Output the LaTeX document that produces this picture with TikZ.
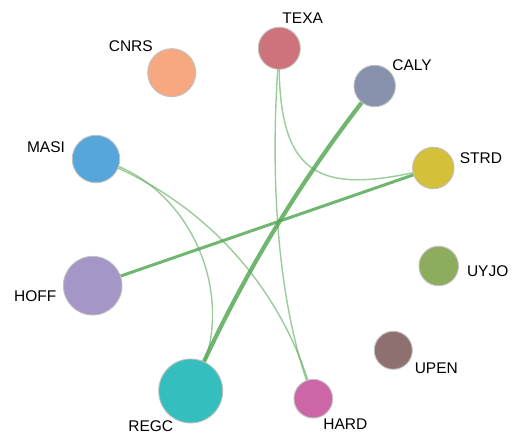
\documentclass[tikz,border=0pt]{standalone}
\usepackage{fontspec}
\setmainfont{Liberation Sans}
\pgfdeclarelayer{bgfill}
\pgfdeclarelayer{edges}
\pgfsetlayers{bgfill,edges,main}
\definecolor{edgecol}{RGB}{88,170,88}
\definecolor{cTEXA}{RGB}{206,114,124}
\definecolor{cCNRS}{RGB}{246,168,128}
\definecolor{cCALY}{RGB}{135,145,171}
\definecolor{cMASI}{RGB}{86,166,220}
\definecolor{cSTRD}{RGB}{213,192,58}
\definecolor{cHOFF}{RGB}{164,151,200}
\definecolor{cUYJO}{RGB}{142,172,94}
\definecolor{cUPEN}{RGB}{142,112,112}
\definecolor{cREGC}{RGB}{52,190,190}
\definecolor{cHARD}{RGB}{204,102,166}
\tikzset{
  vtx/.style={circle, draw=black!25, line width=0.9pt, inner sep=0pt, minimum size=#1},
  lbl/.style={anchor=base, inner sep=0pt, font=\fontsize{15.5}{18}\selectfont},
  thickedge/.style={draw=edgecol, line width=4.2pt, draw opacity=0.85},
  midedge/.style={draw=edgecol, line width=3pt, draw opacity=0.85},
  thinedge/.style={draw=edgecol, line width=1.4pt, draw opacity=0.6}
}
\begin{document}
\begin{tikzpicture}[x=1pt,y=-1pt]
\begin{pgfonlayer}{bgfill}
\fill[white] (0,0) rectangle (515,435);
\end{pgfonlayer}
\useasboundingbox (0,0) rectangle (515,435);
% nodes
\node[vtx=42pt,   fill=cTEXA] (TEXA) at (279.3,48.3) {};
\node[vtx=48pt,   fill=cCNRS] (CNRS) at (171.7,72.7) {};
\node[vtx=41.4pt, fill=cCALY] (CALY) at (374.7,86) {};
\node[vtx=47.4pt, fill=cMASI] (MASI) at (96,159) {};
\node[vtx=41.4pt, fill=cSTRD] (STRD) at (433.3,168) {};
\node[vtx=58.6pt, fill=cHOFF] (HOFF) at (92.7,285.7) {};
\node[vtx=39.4pt, fill=cUYJO] (UYJO) at (438.7,266) {};
\node[vtx=38pt,   fill=cUPEN] (UPEN) at (393.3,350.3) {};
\node[vtx=64pt,   fill=cREGC] (REGC) at (190.7,391) {};
\node[vtx=38.6pt, fill=cHARD] (HARD) at (313.3,398.7) {};
% labels
\node[lbl] (lTEXA) at (302.7,23.9) {TEXA};
\node[lbl] (lCNRS) at (130.8,51.3) {CNRS};
\node[lbl] (lCALY) at (412,70.7) {CALY};
\node[lbl] (lMASI) at (46,152.3) {MASI};
\node[lbl] (lSTRD) at (481,163.3) {STRD};
\node[lbl] (lHOFF) at (35.3,301.7) {HOFF};
\node[lbl] (lUYJO) at (487.7,276.7) {UYJO};
\node[lbl] (lUPEN) at (436.3,373.3) {UPEN};
\node[lbl] (lREGC) at (150.8,432) {REGC};
\node[lbl] (lHARD) at (345.3,429.3) {HARD};
% edges
\begin{pgfonlayer}{edges}
\draw[thickedge] (CALY.center) .. controls (300.4,179.2) and (238.5,281.8) .. (REGC.center);
\draw[midedge] (STRD.center) -- (HOFF.center);
\draw[thinedge] (TEXA.center) .. controls (276,178) and (317,197) .. (STRD.center);
\draw[thinedge] (TEXA.center) .. controls (270,160) and (274,300) .. (HARD.center);
\draw[thinedge] (MASI.center) .. controls (193.4,181.5) and (244.6,306.8) .. (REGC.center);
\draw[thinedge] (MASI.center) .. controls (203,199) and (284,288.3) .. (HARD.center);
\end{pgfonlayer}
\end{tikzpicture}
\end{document}
